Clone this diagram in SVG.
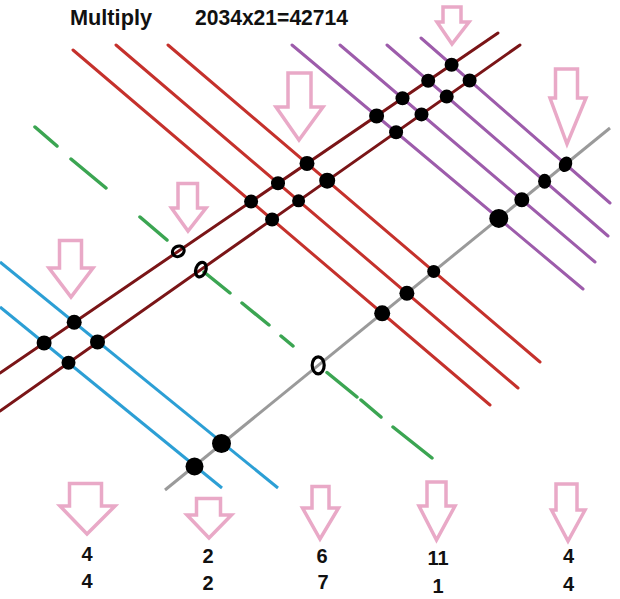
<svg xmlns="http://www.w3.org/2000/svg" width="620" height="599" viewBox="0 0 620 599">
<style>
.red{stroke:#c5312c;stroke-width:3;fill:none;stroke-linecap:round}
.dred{stroke:#7a1517;stroke-width:3;fill:none;stroke-linecap:round}
.pur{stroke:#9d5cab;stroke-width:3;fill:none;stroke-linecap:round}
.blu{stroke:#2c9fd5;stroke-width:3;fill:none}
.gry{stroke:#9a9a9a;stroke-width:3;fill:none}
.grn{stroke:#3ba552;stroke-width:3.5;fill:none;stroke-linecap:round}
.dot{fill:#000}
.ring{fill:none;stroke:#000;stroke-width:3.2}
.arr{fill:#fff;stroke:#e9a9c7;stroke-width:3.5;stroke-linejoin:miter}
.ttl{font-family:"Liberation Sans",Arial,sans-serif;font-weight:bold;font-size:22px;fill:#111}
.num{font-family:"Liberation Sans",Arial,sans-serif;font-weight:bold;font-size:20px;fill:#111;text-anchor:middle}
</style>
<rect width="620" height="599" fill="#fff"/>
<g id="title">
<text class="ttl" x="70" y="24.5" textLength="82" lengthAdjust="spacingAndGlyphs">Multiply</text>
<text class="ttl" x="195" y="24.5" textLength="153" lengthAdjust="spacingAndGlyphs">2034x21=42714</text>
</g>
<g id="connectors">
<line class="red" x1="73" y1="50" x2="490" y2="405"/>
<line class="red" x1="116" y1="45" x2="518" y2="388"/>
<line class="red" x1="168" y1="45" x2="540" y2="362"/>
<line class="pur" x1="292" y1="45" x2="583" y2="289"/>
<line class="pur" x1="340" y1="45" x2="595" y2="262"/>
<line class="pur" x1="387" y1="45" x2="608" y2="236"/>
<line class="pur" x1="421" y1="38" x2="610" y2="203"/>
<line class="blu" x1="0" y1="262" x2="278" y2="488"/>
<line class="blu" x1="0" y1="307" x2="222" y2="488"/>
<path class="grn" d="M35,127L57,146M71,159L106,188M140,217L167,240M204,272L230,293M242,303L269,325M281,336L293,346M327,372.5L357,397M361,400L381,417M393,427L432,458"/>
<line class="dred" x1="0" y1="373" x2="498" y2="33"/>
<line class="dred" x1="0" y1="411" x2="520" y2="45"/>
<line class="gry" x1="165" y1="490" x2="610" y2="128"/>
</g>
<g id="dots">
<circle class="dot" cx="251.1" cy="201.6" r="7"/>
<circle class="dot" cx="272.1" cy="219.5" r="7"/>
<circle class="dot" cx="382.2" cy="313.3" r="8"/>
<circle class="dot" cx="278" cy="183.2" r="7"/>
<circle class="dot" cx="298.6" cy="200.8" r="6.5"/>
<circle class="dot" cx="406.9" cy="293.2" r="7.5"/>
<circle class="dot" cx="307" cy="163.4" r="7.5"/>
<circle class="dot" cx="327.2" cy="180.7" r="8"/>
<circle class="dot" cx="433.7" cy="271.4" r="6.5"/>
<circle class="dot" cx="376.6" cy="115.9" r="7.5"/>
<circle class="dot" cx="396.1" cy="132.2" r="7"/>
<circle class="dot" cx="498.8" cy="218.4" r="9.5"/>
<circle class="dot" cx="402.5" cy="98.2" r="7"/>
<circle class="dot" cx="421.5" cy="114.4" r="7"/>
<circle class="dot" cx="521.8" cy="199.7" r="7.5"/>
<circle class="dot" cx="428.2" cy="80.7" r="7"/>
<circle class="dot" cx="446.7" cy="96.6" r="7"/>
<ellipse class="dot" cx="544.6" cy="181.2" rx="6.5" ry="7.5"/>
<circle class="dot" cx="451.6" cy="64.7" r="7"/>
<circle class="dot" cx="469.6" cy="80.5" r="7"/>
<ellipse class="dot" cx="565.5" cy="164.2" rx="6.5" ry="8" transform="rotate(25 565.5 164.2)"/>
<circle class="dot" cx="74.2" cy="322.3" r="7.5"/>
<circle class="dot" cx="97.5" cy="341.9" r="7.5"/>
<circle class="dot" cx="44.1" cy="342.9" r="7.5"/>
<circle class="dot" cx="68.5" cy="362.8" r="7"/>
<circle class="dot" cx="221.5" cy="443.5" r="9.5"/>
<circle class="dot" cx="194.5" cy="466.5" r="9"/>
<ellipse class="ring" cx="178.3" cy="251.3" rx="6" ry="5" transform="rotate(-30 178.3 251.3)"/>
<ellipse class="ring" cx="200.9" cy="269.6" rx="5" ry="7.5" transform="rotate(20 200.9 269.6)"/>
<ellipse class="ring" cx="318.2" cy="365.3" rx="6" ry="8.5"/>
</g>
<g id="arrow-1"><polygon class="arr" points="443,7 461,7 461,22 469,22 452,44 437,22 443,22"/></g>
<g id="arrow-2"><polygon class="arr" points="288,73 311,73 311,107 323,107 299,140 276,107 288,107"/></g>
<g id="arrow-3"><polygon class="arr" points="555.5,69 577.5,69 577.5,98 586,98 567,144 550,98 555.5,98"/></g>
<g id="arrow-4"><polygon class="arr" points="178,183.5 197.5,183.5 197.5,208 206,208 188,231 171.5,208 178,208"/></g>
<g id="arrow-5"><polygon class="arr" points="59.5,240.5 81.5,240.5 81.5,268 93,268 71,297 49,268 59.5,268"/></g>
<g id="arrow-6"><polygon class="arr" points="69.5,483.5 101.5,483.5 101.5,506 115,506 87,534 60,506 69.5,506"/></g>
<g id="arrow-7"><polygon class="arr" points="196.5,498.5 220.5,498.5 220.5,515 231.5,515 209,538 187,515 196.5,515"/></g>
<g id="arrow-8"><polygon class="arr" points="312,486.5 329,486.5 329,508 338.5,508 320,539 302.5,508 312,508"/></g>
<g id="arrow-9"><polygon class="arr" points="427,482 446,482 446,506 455,506 436.5,540 419,506 427,506"/></g>
<g id="arrow-10"><polygon class="arr" points="556,484 577,484 577,510 585,510 568,541 551.5,510 556,510"/></g>
<g id="labels">
<text class="num" x="87" y="561">4</text>
<text class="num" x="87" y="588">4</text>
<text class="num" x="208" y="563">2</text>
<text class="num" x="208" y="590">2</text>
<text class="num" x="322" y="563">6</text>
<text class="num" x="323" y="589">7</text>
<text class="num" x="438" y="565">11</text>
<text class="num" x="438" y="593">1</text>
<text class="num" x="568.5" y="563">4</text>
<text class="num" x="568.5" y="591">4</text>
</g>
</svg>
